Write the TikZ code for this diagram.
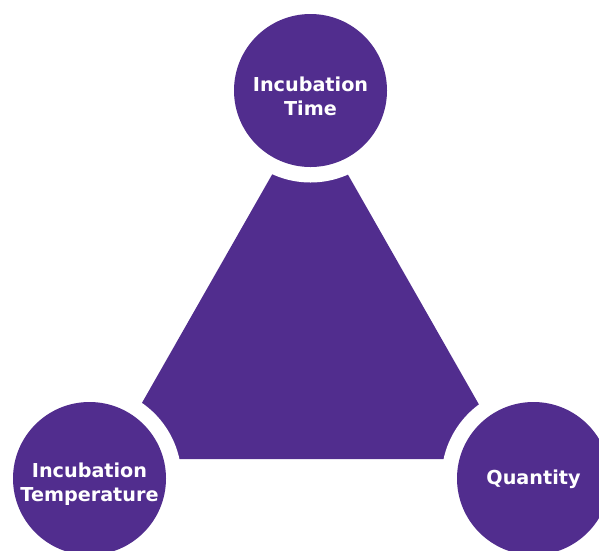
\documentclass[tikz,border=0pt]{standalone}
\usepackage{fontspec}
\setmainfont{DejaVu Sans}
\definecolor{vio}{RGB}{81,45,142}
\begin{document}
\begin{tikzpicture}[x=1pt,y=-1pt,
  disc/.style={circle,fill=vio,minimum size=153pt,inner sep=0pt},
  gapdisc/.style={circle,fill=white,minimum size=184pt,inner sep=0pt},
  lbl/.style={text=white,font=\fontsize{19.2}{24.3}\selectfont\bfseries,align=center,inner sep=0pt}]
\useasboundingbox (0,0) rectangle (599,550);
\clip (0,0) rectangle (599,550);
\coordinate (A) at (310,108);
\coordinate (B) at (110,459);
\coordinate (C) at (510,459);
\fill[vio] (A) -- (B) -- (C) -- cycle;
\node[gapdisc] (gt) at (310.5,90.5) {};
\node[gapdisc] (gl) at (89.5,478.5) {};
\node[gapdisc] (gr) at (533.5,478.5) {};
\node[disc] (top) at (310.5,90.5) {};
\node[disc] (left) at (89.5,478.5) {};
\node[disc] (right) at (533.5,478.5) {};
\node[lbl] (ttop) at ([yshift=-6pt]top.center) {Incubation\\Time};
\node[lbl] (tleft) at ([yshift=-6pt]left.center) {Incubation\\Temperature};
\node[lbl] (tright) at ([yshift=-0.5pt]right.center) {Quantity};
\end{tikzpicture}
\end{document}
